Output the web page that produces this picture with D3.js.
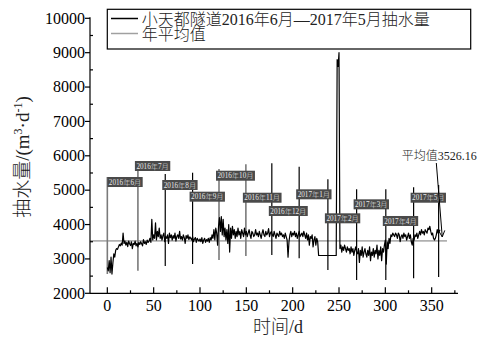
<!DOCTYPE html>
<html><head><meta charset="utf-8">
<script src="https://cdn.jsdelivr.net/npm/d3@7"></script>
<style>
html,body{margin:0;padding:0;background:#fff;}
svg{display:block;}
text{font-family:"Liberation Serif","Times New Roman","Noto Sans CJK SC",serif;font-weight:300;}
</style></head>
<body>
<svg id="chart" width="477" height="345"></svg>
<script>
// daily pumping volume, index = day (0..359)
const pumping = [
2750,2650,2950,2600,3050,2560,2880,3150,3050,3250,
3300,3280,3350,3420,3380,3460,3400,3750,3450,3520,
3400,3480,3360,3520,3440,3390,3500,3300,3450,3420,
3520,3380,3450,3350,3480,3420,3500,3440,3380,3560,
3450,3500,3420,3550,3480,3520,3600,3480,4150,3550,
3700,3600,4050,3550,3800,3650,3900,3600,3700,3550,
3680,3750,3500,3650,3600,3700,3450,3750,3620,3700,
3550,3680,3600,3750,3520,3650,3700,3600,3800,3580,
3650,3550,3700,3620,3450,3680,3600,3700,3560,3640,
3600,3550,3650,3500,3580,3620,3480,3600,3550,3520,
3580,3500,3620,3450,3550,3600,3480,3560,3520,3600,
3480,3620,3550,3700,3600,3850,3550,3900,3750,3400,
3950,4200,3800,4230,3700,4150,3650,3900,3550,3850,
3450,4000,3200,3900,3600,3950,3700,3850,3600,3800,
3650,3900,3700,3800,3600,3850,3750,3650,3900,3700,
3800,3650,3750,3850,3700,3600,3800,3750,3650,3700,
3850,3700,3750,3650,3800,3700,3600,3750,3850,3700,
3650,3800,3700,3750,3880,3650,3750,3800,3700,3650,
3800,3700,3600,3750,3700,3650,3800,3700,3750,3650,
3700,3600,3750,3650,3550,3050,3500,3700,3800,3650,
3750,3700,3800,3650,3750,3600,3700,3800,3650,3700,
3750,3650,3800,3700,3600,3750,3550,3700,3400,3650,
3600,3700,3350,3550,3650,3400,3600,3500,3100,3100,
3100,3100,3100,3100,3100,3100,3100,3100,3100,3100,
3100,3100,3100,3100,3100,3100,3100,3100,8800,8600,
9000,3300,3400,3200,3350,3250,3400,3300,3200,3350,
3250,3300,3150,3350,3200,3300,3100,3250,3350,3200,
3150,3300,2900,3250,3100,3350,3050,3200,3300,3150,
3050,3250,3100,3350,2950,3200,3100,3300,3050,3250,
3150,3400,3000,3250,3100,3350,2950,3300,3200,3400,
3550,2850,3500,3300,3600,3450,3700,3650,3750,3700,
3650,3750,3700,3600,3750,3700,3500,3650,3700,3600,
3750,3650,3700,3550,3650,3750,3600,3700,3500,3400,
3600,3550,3700,3650,3750,3600,3700,3800,3700,3850,
3750,3800,3700,3850,3800,3750,3900,3850,3950,3800,
3700,3750,3600,3550,3600,3700,3850,3750,3800,3850
];
const annualMean = 3526.16;

// month boundary markers
const markerDays   = [0, 33, 62.5, 92, 120.5, 149.5, 177.5, 207, 238, 269, 300.5, 330.5, 357.5];
const markerTop    = [5383, 5849, 5471, 5508, 5616, 5753, 5782, 5683, 5316, 5025, 5025, 5083, 5150];
const markerBottom = [2561, 2657, 2794, 2852, 2969, 3085, 3114, 3018, 2678, 2387, 2387, 2436, 2474];
const monthLabels  = ["2016年6月","2016年7月","2016年8月","2016年9月","2016年10月","2016年11月",
                      "2016年12月","2017年1月","2017年2月","2017年3月","2017年4月","2017年5月", null];
const labelTop     = [5383, 5849, 5296, 4956, 5566, 4926, 4540, 5025, 4327, 4734, 4249, 4926, null];
const grayMarkers  = [0, 1, 4, 5];

const xTicks = [0, 50, 100, 150, 200, 250, 300, 350];
const yTicks = [2000, 3000, 4000, 5000, 6000, 7000, 8000, 9000, 10000];
const legendLabels = ["小天都隧道2016年6月—2017年5月抽水量", "年平均值"];
const meanNote = "平均值3526.16";
const meanNoteFrom = [355, 5790];
const meanNoteTo = [361.4, 3640];

const svg = d3.select("#chart");
const x = d3.scaleLinear().domain([-18.7, 378.4]).range([90, 458]);
const y = d3.scaleLinear().domain([2000, 10000]).range([293.3, 18.3]);

// average line
svg.append("line")
  .attr("x1", x(-18.7)).attr("x2", x(366.5))
  .attr("y1", y(annualMean)).attr("y2", y(annualMean))
  .attr("stroke", "#b0b0b0").attr("stroke-width", 1.6);

// markers
const mg = svg.append("g");
markerDays.forEach((d, i) => {
  const gray = grayMarkers.includes(i);
  mg.append("line")
    .attr("x1", x(d)).attr("x2", x(d))
    .attr("y1", y(markerTop[i])).attr("y2", y(markerBottom[i]))
    .attr("stroke", gray ? "#7a7a7a" : "#000")
    .attr("stroke-width", gray ? 1.6 : 1.2);
});

// data line
svg.append("path")
  .datum(pumping)
  .attr("fill", "none")
  .attr("stroke", "#000")
  .attr("stroke-width", 1.2)
  .attr("stroke-linejoin", "round")
  .attr("d", d3.line().x((v, i) => x(i)).y(v => y(v)));

// marker labels
const lg = svg.append("g");
monthLabels.forEach((t, i) => {
  if (!t) return;
  const g = lg.append("g");
  const lx = x(markerDays[i]) - (i === 0 ? 0 : 3);
  const ly = y(labelTop[i]);
  const rect = g.append("rect").attr("fill", "#4a4a4a");
  const txt = g.append("text")
    .attr("x", lx + 1.5).attr("y", ly + 7.6)
    .attr("font-size", 7.2).attr("fill", "#e8e8e8")
    .text(t);
  const w = txt.node().getComputedTextLength();
  rect.attr("x", lx).attr("y", ly).attr("width", w + 3).attr("height", 10);
});

// axes
const ax = svg.append("g").attr("stroke", "#000").attr("stroke-width", 1.2);
ax.append("line").attr("x1", 90).attr("x2", 90).attr("y1", y(10000) - 1).attr("y2", y(2000));
ax.append("line").attr("x1", 90).attr("x2", 458).attr("y1", y(2000)).attr("y2", y(2000));
yTicks.forEach(v => ax.append("line").attr("x1", 85).attr("x2", 90).attr("y1", y(v)).attr("y2", y(v)));
d3.range(2500, 10000, 1000).forEach(v => ax.append("line").attr("x1", 90).attr("x2", 93).attr("y1", y(v)).attr("y2", y(v)));
xTicks.forEach(v => ax.append("line").attr("x1", x(v)).attr("x2", x(v)).attr("y1", y(2000)).attr("y2", y(2000) - 6));
d3.range(25, 380, 50).forEach(v => ax.append("line").attr("x1", x(v)).attr("x2", x(v)).attr("y1", y(2000)).attr("y2", y(2000) - 3));

svg.append("g").selectAll("text").data(yTicks).join("text")
  .attr("x", 85).attr("y", v => y(v)).attr("dy", "0.33em")
  .attr("text-anchor", "end").attr("font-size", 16).text(v => v);
svg.append("g").selectAll("text").data(xTicks).join("text")
  .attr("x", v => x(v)).attr("y", 310.5)
  .attr("text-anchor", "middle").attr("font-size", 16).text(v => v);

// axis titles
svg.append("text").attr("x", 278).attr("y", 333).attr("text-anchor", "middle")
  .attr("font-size", 18).attr("fill", "#222").text("时间/d");
const yt = svg.append("text").attr("transform", "translate(29,157) rotate(-90)")
  .attr("text-anchor", "middle").attr("font-size", 19).attr("fill", "#222");
yt.append("tspan").text("抽水量/(m");
yt.append("tspan").attr("dy", -7).attr("font-size", 12).text("3");
yt.append("tspan").attr("dy", 7).text("·d");
yt.append("tspan").attr("dy", -7).attr("font-size", 12).text("-1");
yt.append("tspan").attr("dy", 7).text(")");

// legend
const leg = svg.append("g");
leg.append("rect").attr("x", 107.3).attr("y", 9.3).attr("width", 363.4).attr("height", 39.7)
  .attr("fill", "#fff").attr("stroke", "#000").attr("stroke-width", 1.2);
leg.append("line").attr("x1", 111).attr("x2", 138).attr("y1", 18.5).attr("y2", 18.5)
  .attr("stroke", "#000").attr("stroke-width", 1.5);
leg.append("line").attr("x1", 111).attr("x2", 138).attr("y1", 33.5).attr("y2", 33.5)
  .attr("stroke", "#a0a0a0").attr("stroke-width", 1.5);
leg.append("text").attr("x", 141.7).attr("y", 24.5).attr("font-size", 16).attr("fill", "#222").text(legendLabels[0]);
leg.append("text").attr("x", 141.7).attr("y", 40).attr("font-size", 16).attr("fill", "#222").text(legendLabels[1]);

// mean annotation
svg.append("text").attr("x", 401.7).attr("y", 159.5).attr("font-size", 12).attr("fill", "#222").text(meanNote);
const ax1 = x(meanNoteFrom[0]), ay1 = y(meanNoteFrom[1]);
const ax2 = x(meanNoteTo[0]), ay2 = y(meanNoteTo[1]);
svg.append("line").attr("x1", ax1).attr("y1", ay1).attr("x2", ax2).attr("y2", ay2)
  .attr("stroke", "#000").attr("stroke-width", 1);
const ang = Math.atan2(ay2 - ay1, ax2 - ax1);
const hl = 7, hw = 0.45;
svg.append("path")
  .attr("d", `M${ax2 - hl*Math.cos(ang - hw)},${ay2 - hl*Math.sin(ang - hw)}L${ax2},${ay2}L${ax2 - hl*Math.cos(ang + hw)},${ay2 - hl*Math.sin(ang + hw)}`)
  .attr("fill", "none").attr("stroke", "#000").attr("stroke-width", 1);
</script>
</body></html>
